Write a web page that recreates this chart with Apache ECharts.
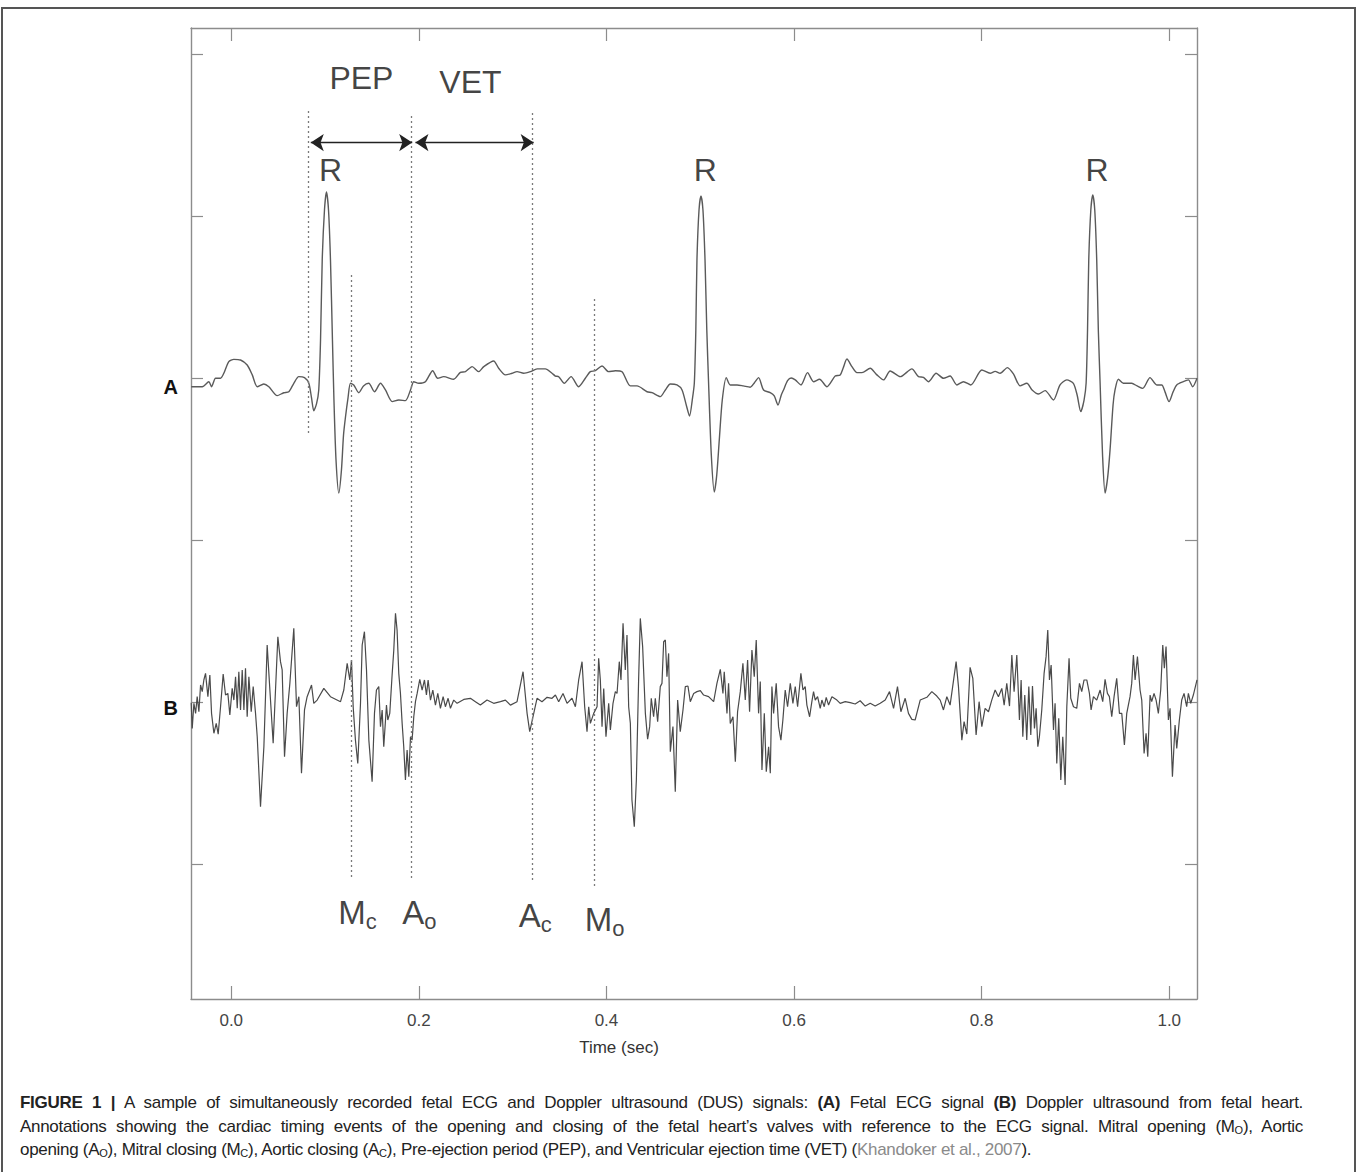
<!DOCTYPE html>
<html lang="en">
<head>
<meta charset="UTF-8">
<title>Fetal ECG and Doppler ultrasound</title>
<script src="https://cdn.jsdelivr.net/npm/echarts@6/dist/echarts.min.js"></script>
<style>
  body { margin: 0; background: #fff; width: 1358px; height: 1172px; overflow: hidden; position: relative;
         font-family: "Liberation Sans", Arial, sans-serif; }
  #frame { position: absolute; left: 1px; top: 7px; width: 1355px; height: 1200px; border: 2px solid #555; box-sizing: border-box; }
  #main { position: absolute; left: 0; top: 0; width: 1358px; height: 1075px; }
  #caption { position: absolute; left: 20px; top: 1091px; width: 1283px; font-size: 17px; letter-spacing: -0.3px;
             line-height: 23.5px; color: #222; }
  #caption .full { text-align: justify; text-align-last: justify; white-space: nowrap; }
  #caption .last { white-space: nowrap; }
  #caption b { font-weight: bold; }
  #caption sub { font-size: 11px; vertical-align: -2px; line-height: 0; }
  .ref { color: #8a8a8a; }
</style>
</head>
<body>
<div id="frame"></div>
<div id="main"></div>
<div id="caption">
  <div class="full"><b>FIGURE 1 |</b> A sample of simultaneously recorded fetal ECG and Doppler ultrasound (DUS) signals: <b>(A)</b> Fetal ECG signal <b>(B)</b> Doppler ultrasound from fetal heart.</div>
  <div class="full">Annotations showing the cardiac timing events of the opening and closing of the fetal heart’s valves with reference to the ECG signal. Mitral opening (M<sub>O</sub>), Aortic</div>
  <div class="last">opening (A<sub>O</sub>), Mitral closing (M<sub>C</sub>), Aortic closing (A<sub>C</sub>), Pre-ejection period (PEP), and Ventricular ejection time (VET) (<span class="ref">Khandoker et al., 2007</span>).</div>
</div>
<script>
// time in seconds, amplitude in trace units (one tick = one unit)
const ecgSignal = [[-0.0426,-0.054],[-0.0309,-0.054],[-0.0239,-0.023],[-0.0210,-0.054],[-0.0167,-0.002],[-0.0114,-0.002],[-0.0079,0.029],[-0.0026,0.101],[0.0028,0.115],[0.0099,0.111],[0.0170,0.080],[0.0224,0.019],[0.0277,-0.054],[0.0347,-0.037],[0.0401,-0.054],[0.0490,-0.109],[0.0560,-0.091],[0.0614,-0.085],[0.0667,-0.033],[0.0720,0.008],[0.0781,0.002],[0.0827,-0.033],[0.0856,-0.123],[0.0880,-0.202],[0.0909,-0.160],[0.0933,-0.074],[0.0952,0.235],[0.0970,0.728],[0.0994,1.037],[0.1015,1.148],[0.1037,1.037],[0.1058,0.728],[0.1079,0.235],[0.1095,-0.136],[0.1117,-0.506],[0.1147,-0.710],[0.1175,-0.568],[0.1197,-0.352],[0.1218,-0.241],[0.1245,-0.123],[0.1271,-0.033],[0.1306,-0.043],[0.1360,-0.091],[0.1410,-0.049],[0.1466,-0.033],[0.1527,-0.085],[0.1591,-0.033],[0.1644,-0.074],[0.1716,-0.146],[0.1786,-0.136],[0.1857,-0.140],[0.1911,-0.074],[0.1946,-0.023],[0.1999,-0.033],[0.2070,-0.023],[0.2148,0.045],[0.2201,-0.002],[0.2265,0.008],[0.2372,-0.008],[0.2443,0.035],[0.2497,0.039],[0.2568,0.070],[0.2638,0.039],[0.2692,0.070],[0.2798,0.105],[0.2851,0.060],[0.2923,0.019],[0.2994,0.029],[0.3047,0.039],[0.3118,0.029],[0.3189,0.039],[0.3261,0.056],[0.3349,0.056],[0.3420,0.029],[0.3456,0.012],[0.3491,0.008],[0.3551,-0.033],[0.3623,0.008],[0.3704,-0.054],[0.3775,-0.002],[0.3828,0.039],[0.3882,0.045],[0.3953,0.074],[0.4023,0.039],[0.4095,0.045],[0.4166,0.039],[0.4255,-0.049],[0.4326,-0.049],[0.4433,-0.085],[0.4486,-0.091],[0.4574,-0.115],[0.4628,-0.074],[0.4681,-0.037],[0.4752,-0.043],[0.4806,-0.074],[0.4851,-0.167],[0.4886,-0.235],[0.4915,-0.136],[0.4937,-0.031],[0.4953,0.296],[0.4965,0.728],[0.4987,1.037],[0.5008,1.123],[0.5029,1.037],[0.5051,0.728],[0.5070,0.296],[0.5089,-0.031],[0.5118,-0.475],[0.5150,-0.704],[0.5176,-0.599],[0.5203,-0.383],[0.5235,-0.136],[0.5278,0.002],[0.5320,-0.043],[0.5392,-0.043],[0.5459,-0.049],[0.5533,-0.057],[0.5576,-0.031],[0.5622,0.002],[0.5675,-0.074],[0.5746,-0.091],[0.5789,-0.111],[0.5829,-0.167],[0.5864,-0.105],[0.5888,-0.074],[0.5931,-0.017],[0.5970,0],[0.6013,-0.012],[0.6074,-0.043],[0.6144,0.033],[0.6208,-0.023],[0.6272,-0.008],[0.6351,-0.054],[0.6439,0.012],[0.6492,0.019],[0.6524,0.062],[0.6564,0.117],[0.6617,0.070],[0.6670,0.033],[0.6724,0.033],[0.6812,0.060],[0.6883,0.019],[0.6954,-0.012],[0.7025,0.043],[0.7132,0.008],[0.7256,0.056],[0.7327,0.008],[0.7380,0.004],[0.7433,-0.023],[0.7515,0.029],[0.7593,-0.002],[0.7664,0.012],[0.7736,-0.043],[0.7806,-0.023],[0.7885,-0.043],[0.8002,0.049],[0.8091,0.029],[0.8144,0.041],[0.8197,0.029],[0.8275,0.064],[0.8339,0.025],[0.8410,-0.049],[0.8482,-0.033],[0.8538,-0.074],[0.8605,-0.099],[0.8677,-0.078],[0.8765,-0.136],[0.8836,-0.043],[0.8908,-0.012],[0.8978,-0.033],[0.9018,-0.105],[0.9057,-0.208],[0.9092,-0.136],[0.9114,-0.031],[0.9129,0.296],[0.9142,0.728],[0.9164,1.037],[0.9185,1.130],[0.9206,1.037],[0.9227,0.728],[0.9244,0.296],[0.9263,-0.031],[0.9289,-0.475],[0.9316,-0.710],[0.9343,-0.617],[0.9369,-0.444],[0.9401,-0.167],[0.9422,-0.074],[0.9458,-0.008],[0.9511,-0.033],[0.9600,-0.033],[0.9657,-0.049],[0.9718,-0.064],[0.9795,0.002],[0.9867,-0.043],[0.9920,-0.043],[0.9955,-0.086],[0.9998,-0.146],[1.0041,-0.086],[1.0080,-0.043],[1.0150,-0.023],[1.0204,-0.012],[1.0250,-0.054],[1.0296,-0.002]];

const dusSignal = [[-0.0427,-0.004],[-0.0416,-0.163],[-0.0398,-0.008],[-0.0380,-0.070],[-0.0363,0.033],[-0.0345,-0.060],[-0.0327,0.105],[-0.0309,0.064],[-0.0292,0.136],[-0.0274,0.177],[-0.0249,0.033],[-0.0228,0.167],[-0.0210,-0.070],[-0.0185,-0.193],[-0.0160,-0.132],[-0.0139,-0.198],[-0.0114,-0.029],[-0.0086,0.173],[-0.0061,0.043],[-0.0036,0.053],[-0.0015,-0.080],[0.0010,0.084],[0.0028,0.012],[0.0046,0.156],[0.0064,-0.039],[0.0081,0.187],[0.0099,-0.049],[0.0117,0.198],[0.0135,-0.049],[0.0152,0.208],[0.0170,-0.091],[0.0188,0.156],[0.0213,-0.060],[0.0234,0.095],[0.0259,-0.070],[0.0277,-0.214],[0.0312,-0.646],[0.0348,-0.276],[0.0383,0.352],[0.0412,0.074],[0.0447,-0.255],[0.0497,0.403],[0.0525,0.249],[0.0543,0.198],[0.0568,-0.337],[0.0596,-0.070],[0.0625,0.115],[0.0667,0.455],[0.0696,-0.029],[0.0721,0.033],[0.0749,-0.440],[0.0781,-0.049],[0.0809,0.033],[0.0856,0.105],[0.0880,-0.008],[0.0916,0.012],[0.0987,0.084],[0.1058,0.033],[0.1165,0.002],[0.1200,0.074],[0.1236,0.239],[0.1264,0.136],[0.1282,0.259],[0.1300,-0.029],[0.1324,-0.235],[0.1349,-0.379],[0.1378,-0.008],[0.1396,0.352],[0.1420,0.434],[0.1442,0.198],[0.1467,-0.235],[0.1502,-0.492],[0.1527,-0.070],[0.1548,0.074],[0.1573,0.095],[0.1591,-0.152],[0.1609,-0.049],[0.1626,-0.276],[0.1655,-0.019],[0.1669,-0.111],[0.1690,-0.070],[0.1715,0.167],[0.1733,0.321],[0.1751,0.547],[0.1768,0.444],[0.1786,0.177],[0.1804,0.053],[0.1822,-0.132],[0.1839,-0.276],[0.1857,-0.481],[0.1875,-0.296],[0.1893,-0.461],[0.1911,-0.214],[0.1928,-0.235],[0.1946,-0.091],[0.1964,0.002],[0.1982,0.053],[0.2010,0.140],[0.2035,0.074],[0.2060,0.136],[0.2081,0.043],[0.2099,0.136],[0.2124,0.012],[0.2149,0.074],[0.2177,-0.019],[0.2202,0.053],[0.2230,-0.039],[0.2259,0.033],[0.2283,-0.029],[0.2312,0.023],[0.2337,-0.039],[0.2372,0.012],[0.2408,-0.008],[0.2479,0.016],[0.2550,0.023],[0.2603,0.002],[0.2656,-0.019],[0.2727,0.012],[0.2798,-0.008],[0.2870,0.002],[0.2923,0.012],[0.2976,-0.019],[0.3047,0.002],[0.3111,0.187],[0.3154,-0.070],[0.3182,-0.183],[0.3225,-0.070],[0.3260,0.023],[0.3313,0.002],[0.3367,0.029],[0.3420,0.023],[0.3456,0.043],[0.3491,0.002],[0.3537,0.053],[0.3580,-0.008],[0.3633,0.023],[0.3669,-0.029],[0.3704,0.136],[0.3740,0.249],[0.3768,-0.029],[0.3793,-0.183],[0.3811,-0.029],[0.3829,-0.132],[0.3864,-0.070],[0.3900,-0.029],[0.3917,0.270],[0.3935,0.136],[0.3953,-0.152],[0.3971,0.084],[0.3995,-0.214],[0.4024,-0.008],[0.4042,-0.173],[0.4070,-0.008],[0.4095,0.064],[0.4113,0.053],[0.4137,0.249],[0.4155,0.136],[0.4177,0.486],[0.4201,0.198],[0.4219,0.414],[0.4237,-0.029],[0.4255,-0.132],[0.4272,-0.605],[0.4297,-0.770],[0.4319,-0.481],[0.4343,0.136],[0.4361,0.516],[0.4386,0.342],[0.4415,-0.070],[0.4439,-0.230],[0.4461,-0.152],[0.4478,0.023],[0.4503,-0.091],[0.4521,0.023],[0.4546,-0.121],[0.4574,0.095],[0.4592,0.115],[0.4610,0.372],[0.4628,0.383],[0.4645,0.156],[0.4663,0.300],[0.4681,-0.307],[0.4709,-0.152],[0.4734,-0.553],[0.4759,0.012],[0.4787,-0.183],[0.4816,-0.049],[0.4841,0.095],[0.4869,0.099],[0.4894,0.002],[0.4930,0.053],[0.4965,0.064],[0.5001,0.070],[0.5036,0.043],[0.5089,0.033],[0.5143,0.002],[0.5178,0.115],[0.5214,0.202],[0.5242,0.053],[0.5256,0.187],[0.5285,-0.070],[0.5302,0.115],[0.5320,-0.132],[0.5349,-0.091],[0.5374,-0.368],[0.5398,-0.060],[0.5427,0.064],[0.5455,0.239],[0.5480,0.012],[0.5505,0.259],[0.5526,-0.060],[0.5551,0.321],[0.5576,0.156],[0.5597,0.383],[0.5622,-0.070],[0.5640,0.126],[0.5658,-0.420],[0.5683,-0.070],[0.5704,-0.430],[0.5729,-0.276],[0.5747,-0.440],[0.5764,0.095],[0.5782,-0.070],[0.5810,0.115],[0.5835,-0.152],[0.5860,-0.235],[0.5881,-0.111],[0.5906,0.074],[0.5931,-0.029],[0.5960,0.115],[0.5988,-0.008],[0.6013,0.095],[0.6038,-0.029],[0.6073,0.177],[0.6095,0.074],[0.6119,0.095],[0.6137,-0.019],[0.6166,-0.091],[0.6190,0.002],[0.6208,0.064],[0.6226,0.012],[0.6251,0.033],[0.6279,-0.039],[0.6297,0.012],[0.6322,-0.029],[0.6343,0.029],[0.6368,-0.019],[0.6404,0.033],[0.6457,0.012],[0.6492,-0.008],[0.6546,0.002],[0.6599,-0.004],[0.6652,-0.012],[0.6705,0.008],[0.6759,-0.025],[0.6812,-0.008],[0.6865,-0.025],[0.6919,-0.008],[0.6972,0.012],[0.7018,0.064],[0.7061,-0.039],[0.7103,0.095],[0.7139,-0.060],[0.7185,0.023],[0.7220,-0.070],[0.7256,-0.107],[0.7291,-0.111],[0.7345,0.012],[0.7416,0.029],[0.7469,0.064],[0.7522,0.037],[0.7558,0.012],[0.7593,-0.049],[0.7629,0.033],[0.7664,-0.019],[0.7728,0.249],[0.7753,0.095],[0.7789,-0.235],[0.7813,-0.121],[0.7842,-0.198],[0.7877,0.214],[0.7906,0.146],[0.7941,-0.204],[0.7973,0.002],[0.8002,-0.152],[0.8037,-0.039],[0.8073,-0.060],[0.8108,0.012],[0.8144,0.074],[0.8179,0.033],[0.8215,0.084],[0.8240,-0.019],[0.8268,0.115],[0.8297,-0.025],[0.8322,0.290],[0.8346,0.064],[0.8375,0.290],[0.8403,-0.111],[0.8421,0.136],[0.8439,-0.214],[0.8460,0.043],[0.8481,-0.235],[0.8503,0.095],[0.8524,-0.204],[0.8542,0.099],[0.8563,-0.163],[0.8581,-0.039],[0.8599,-0.276],[0.8616,-0.214],[0.8641,-0.049],[0.8666,0.177],[0.8687,0.280],[0.8705,0.444],[0.8723,0.136],[0.8741,0.228],[0.8766,-0.173],[0.8783,-0.008],[0.8801,-0.379],[0.8822,-0.101],[0.8844,-0.481],[0.8865,-0.214],[0.8890,-0.512],[0.8908,-0.029],[0.8932,0.270],[0.8950,0.023],[0.8979,-0.029],[0.9014,-0.039],[0.9043,0.115],[0.9067,0.064],[0.9092,0.136],[0.9121,0.136],[0.9149,0.053],[0.9167,-0.049],[0.9192,0.033],[0.9227,0.012],[0.9263,0.074],[0.9291,0.002],[0.9316,0.140],[0.9341,0.053],[0.9362,0.033],[0.9387,-0.091],[0.9412,0.033],[0.9440,0.146],[0.9469,-0.070],[0.9494,-0.070],[0.9522,-0.265],[0.9547,-0.070],[0.9582,0.033],[0.9600,0.115],[0.9618,0.290],[0.9636,0.136],[0.9661,0.280],[0.9689,0.074],[0.9707,0.012],[0.9732,-0.317],[0.9753,-0.193],[0.9771,-0.337],[0.9796,0.043],[0.9813,0.002],[0.9838,0.053],[0.9860,0.012],[0.9884,-0.070],[0.9909,0.074],[0.9931,0.352],[0.9948,0.208],[0.9966,0.342],[0.9991,-0.111],[1.0009,-0.039],[1.0034,-0.461],[1.0062,-0.142],[1.0080,-0.286],[1.0108,-0.111],[1.0133,0.012],[1.0158,0.053],[1.0186,-0.029],[1.0204,0.053],[1.0229,-0.008],[1.0257,0.043],[1.0296,0.136]];

const ecgOffset = 3;
const dusOffset = 1;
const xTicks = [0, 0.2, 0.4, 0.6, 0.8, 1.0];
const yTicks = [0, 1, 2, 3, 4, 5];
const traceNames = ['A', 'B'];

// cardiac timing events (s)
const eventNames = ['R', 'Mc', 'Ao', 'Ac', 'Mo'];
const eventTimes = [0.0820, 0.1279, 0.1921, 0.3210, 0.3868];
const rPeakTimes = [0.1015, 0.5008, 0.9185];
const intervalNames = ['PEP', 'VET'];
const intervalStart = [0.0848, 0.1964];
const intervalEnd = [0.1929, 0.3224];

const FONT = '"Liberation Sans", Arial, sans-serif';
const AXIS_COLOR = '#8c8c8c';

// where each dotted guide runs (y range) and where the text annotations sit
const guideSpan = { R: [2.66, 4.654], Mc: [-0.08, 3.636], Ao: [-0.086, 4.623], Ac: [-0.099, 4.654], Mo: [-0.136, 3.50] };
const eventLabelY = { Mc: -0.30, Ao: -0.30, Ac: -0.32, Mo: -0.34 };
const eventLabelShift = { Mc: 0.0066, Ao: 0.0085, Ac: 0.0032, Mo: 0.0112 };
const intervalLabelPos = { PEP: [0.1388, 4.852], VET: [0.2550, 4.827] };

const chart = echarts.init(document.getElementById('main'), null, { renderer: 'svg' });

const ecgData = ecgSignal.map(p => [p[0], p[1] + ecgOffset]);
const dusData = dusSignal.map(p => [p[0], p[1] + dusOffset]);

const guides = eventNames.map((n, i) => [
  { coord: [eventTimes[i], guideSpan[n][0]] }, { coord: [eventTimes[i], guideSpan[n][1]] }
]);

const arrows = intervalNames.map((n, i) => [
  { coord: [intervalStart[i], 4.453] }, { coord: [intervalEnd[i], 4.453] }
]);

const textItems = [];
intervalNames.forEach(n => textItems.push({ value: intervalLabelPos[n], text: n }));
rPeakTimes.forEach(t => textItems.push({ value: [t + 0.0045, 4.284], text: 'R' }));
eventNames.forEach((n, i) => {
  if (n === 'R') return;
  textItems.push({
    value: [eventTimes[i] + eventLabelShift[n], eventLabelY[n]],
    text: '{b|' + n[0] + '}{s|' + n[1] + '}'
  });
});

const baseAxis = {
  type: 'value',
  axisLine: { show: true, onZero: false, lineStyle: { color: AXIS_COLOR, width: 1.4 } },
  splitLine: { show: false },
  axisTick: { show: true, inside: true, length: 13, lineStyle: { color: AXIS_COLOR, width: 1.2 } }
};

const option = {
  animation: false,
  backgroundColor: 'transparent',
  grid: { left: 191, right: 161, top: 28, bottom: 76 },
  xAxis: [
    Object.assign({}, baseAxis, {
      position: 'bottom', min: -0.0429, max: 1.0296,
      axisTick: Object.assign({}, baseAxis.axisTick, { customValues: xTicks }),
      axisLabel: { customValues: xTicks, formatter: v => v.toFixed(1), margin: 13,
                   fontSize: 17, fontFamily: FONT, color: '#444' },
      name: 'Time (sec)', nameLocation: 'middle', nameGap: 40,
      nameTextStyle: { fontSize: 17, fontFamily: FONT, color: '#333', padding: [0, 150, 0, 0] }
    }),
    Object.assign({}, baseAxis, {
      position: 'top', min: -0.0429, max: 1.0296,
      axisTick: Object.assign({}, baseAxis.axisTick, { customValues: xTicks }),
      axisLabel: { show: false }
    })
  ],
  yAxis: [
    Object.assign({}, baseAxis, {
      position: 'left', min: -0.833, max: 5.16,
      axisTick: Object.assign({}, baseAxis.axisTick, { length: 12, customValues: yTicks }),
      axisLabel: { customValues: [ecgOffset - 0.056, dusOffset - 0.037],
                   formatter: v => (v > 2 ? traceNames[0] : traceNames[1]),
                   margin: 13, fontSize: 20, fontWeight: 'bold', fontFamily: FONT, color: '#111' }
    }),
    Object.assign({}, baseAxis, {
      position: 'right', min: -0.833, max: 5.16,
      axisTick: Object.assign({}, baseAxis.axisTick, { length: 12, customValues: yTicks }),
      axisLabel: { show: false }
    })
  ],
  series: [
    {
      name: 'Fetal ECG', type: 'line', data: ecgData, showSymbol: false, smooth: 0.25,
      lineStyle: { color: '#5a5a5a', width: 1.4 }, z: 3,
      markLine: {
        silent: true, symbol: ['none', 'none'], label: { show: false },
        lineStyle: { type: [2, 3], color: '#7a7a7a', width: 1.3 },
        data: guides
      }
    },
    {
      name: 'DUS', type: 'line', data: dusData, showSymbol: false,
      lineStyle: { color: '#4a4a4a', width: 1.2 }, z: 3
    },
    {
      name: 'annotations', type: 'scatter', data: textItems, symbolSize: 1,
      itemStyle: { color: 'rgba(0,0,0,0)' }, silent: true, z: 5,
      label: {
        show: true, position: 'inside', formatter: p => p.data.text,
        fontSize: 32, fontFamily: FONT, color: '#111',
        rich: {
          b: { fontSize: 33, lineHeight: 40, fontFamily: FONT, color: '#111' },
          s: { fontSize: 22, lineHeight: 2, verticalAlign: 'bottom', fontFamily: FONT, color: '#111' }
        }
      },
      markLine: {
        silent: true, symbol: ['arrow', 'arrow'], symbolSize: 13, label: { show: false },
        lineStyle: { type: 'solid', color: '#222', width: 1.3 },
        data: arrows
      }
    }
  ]
};

chart.setOption(option);
</script>
</body>
</html>
